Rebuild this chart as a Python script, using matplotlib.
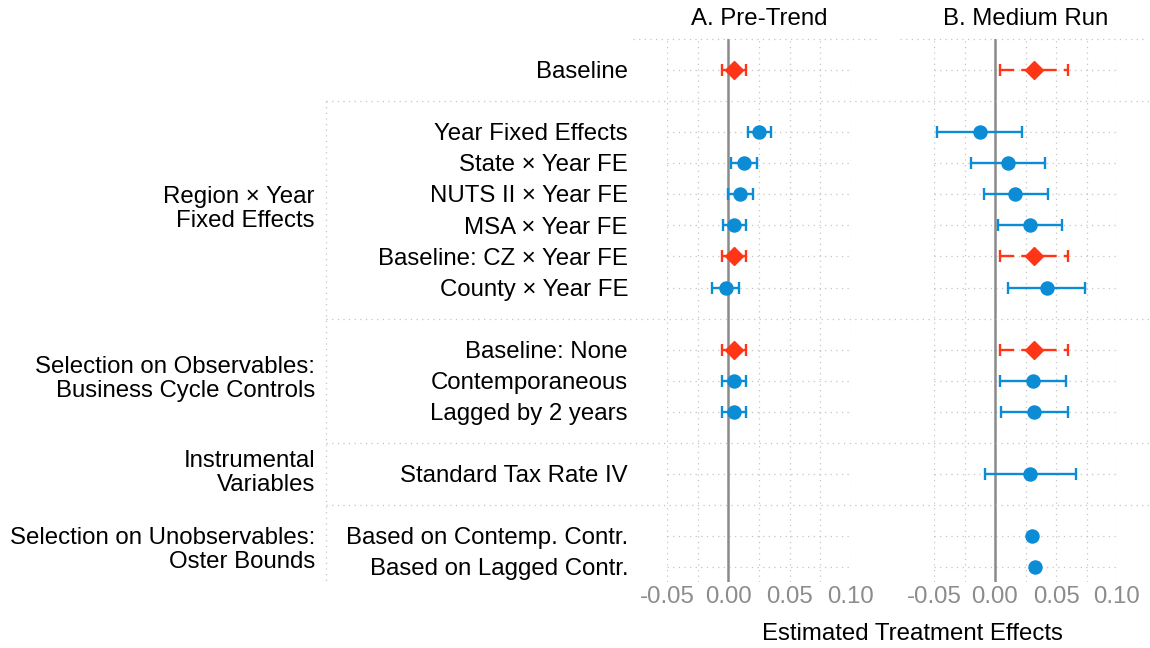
import numpy as np
import matplotlib
matplotlib.use("Agg")
import matplotlib.pyplot as plt
from matplotlib import transforms

plt.rcParams['font.family'] = ['Liberation Sans', 'DejaVu Sans']
plt.rcParams['axes.unicode_minus'] = False

# groups of specifications (group label, row labels)
groups = [
    ("", ["Baseline"]),
    ("Region × Year\nFixed Effects", ["Year Fixed Effects", "State × Year FE", "NUTS II × Year FE",
                                      "MSA × Year FE", "Baseline: CZ × Year FE", "County × Year FE"]),
    ("Selection on Observables:\nBusiness Cycle Controls", ["Baseline: None", "Contemporaneous",
                                                           "Lagged by 2 years"]),
    ("Instrumental\nVariables", ["Standard Tax Rate IV"]),
    ("Selection on Unobservables:\nOster Bounds", ["Based on Contemp. Contr.", "Based on Lagged Contr."]),
]

is_baseline = [True, False, False, False, False, True, False, True, False, False, False, False, False]

nan = np.nan
# A. Pre-Trend
pre_est = [0.0049, 0.0246, 0.0128, 0.0093, 0.0049, 0.0049, -0.0022, 0.0049, 0.0044, 0.0044, nan, nan, nan]
pre_lo = [-0.0050, 0.0158, 0.0025, -0.0006, -0.0047, -0.0050, -0.0134, -0.0050, -0.0055, -0.0055, nan, nan, nan]
pre_hi = [0.0145, 0.0350, 0.0235, 0.0200, 0.0145, 0.0145, 0.0090, 0.0145, 0.0140, 0.0140, nan, nan, nan]
# B. Medium Run
mr_est = [0.0316, -0.0126, 0.0107, 0.0168, 0.0289, 0.0316, 0.0423, 0.0316, 0.0311, 0.0319, 0.0283, 0.0302, 0.0324]
mr_lo = [0.0041, -0.0473, -0.0195, -0.0091, 0.0025, 0.0041, 0.0110, 0.0041, 0.0041, 0.0047, -0.0082, nan, nan]
mr_hi = [0.0596, 0.0225, 0.0410, 0.0437, 0.0552, 0.0596, 0.0740, 0.0596, 0.0580, 0.0596, 0.0660, nan, nan]

ticks = [-0.05, 0.00, 0.05, 0.10]
tick_labels = ["-0.05", "0.00", "0.05", "0.10"]

RED = '#FF3516'
BLUE = '#0B8CD4'
GRID = '#c4c4c4'
DOT = (0, (1, 3.5))
FS = 17.3

W, H = 1150, 648
fig = plt.figure(figsize=(11.5, 6.48), dpi=100)

# row positions, one empty row between groups
rows, labels, seps, group_pos = [], [], [], []
r = 0
for g, (glab, items) in enumerate(groups):
    start = r
    for it in items:
        rows.append(r)
        labels.append(it)
        r += 1
    group_pos.append((glab, (start + r - 1) / 2))
    if g < len(groups) - 1:
        seps.append(r)
        r += 1
ytop, ybot = -1.0, r - 1 + 0.48

top_px, bot_px = 39, 582


def make_panel(x0, x1, title, est, lo, hi):
    ax = fig.add_axes([x0 / W, 1 - bot_px / H, (x1 - x0) / W, (bot_px - top_px) / H])
    ax.set_xlim(-0.05, 0.10)
    ax.set_ylim(ybot, ytop)
    ax.patch.set_alpha(0)
    for s in ax.spines.values():
        s.set_visible(False)
    for xv in np.arange(-0.05, 0.1001, 0.025):
        ax.axvline(xv, color=GRID, lw=0.9, ls=DOT, zorder=1)
    for rr in rows:
        ax.hlines(rr, -0.05, 0.10, color=GRID, lw=0.9, ls=DOT, zorder=1)
    ax.axvline(0, color='#8a8a8a', lw=1.8, zorder=2)
    for i, rr in enumerate(rows):
        if np.isnan(est[i]):
            continue
        col = RED if is_baseline[i] else BLUE
        if not np.isnan(lo[i]):
            _, caps, bars = ax.errorbar(est[i], rr, xerr=[[est[i] - lo[i]], [hi[i] - est[i]]], fmt='none',
                                        ecolor=col, elinewidth=1.7, capsize=4.3, capthick=1.7, zorder=3)
            if is_baseline[i]:
                bars[0].set_linestyle((0, (6.0, 3.0)))
        ax.plot(est[i], rr, ls='none', marker='D' if is_baseline[i] else 'o',
                ms=9.4, color=col, mec=col, zorder=4)
    ax.set_yticks([])
    ax.set_xticks(ticks)
    ax.set_xticklabels(tick_labels)
    ax.tick_params(axis='x', length=0, pad=3, labelsize=FS, labelcolor='#8c8c8c')
    fig.text((x0 + x1) / 2 / W, 1 - 19 / H, title, ha='center', va='center', fontsize=FS)
    return ax


axA = make_panel(667, 851, "A. Pre-Trend", pre_est, pre_lo, pre_hi)
axB = make_panel(934, 1117, "B. Medium Run", mr_est, mr_lo, mr_hi)

tr = transforms.blended_transform_factory(fig.transFigure, axA.transData)

# row labels and group labels
for lab, rr in zip(labels, rows):
    fig.text(628 / W, rr + 0.07, lab, transform=tr, ha='right', va='center', fontsize=FS)
for glab, gp in group_pos:
    if glab:
        fig.text(315 / W, gp - 0.04, glab, transform=tr, ha='right', va='center',
                 fontsize=FS, linespacing=1.12)

# separators
for s in seps:
    fig.add_artist(plt.Line2D([326 / W, 1], [s, s], transform=tr, color=GRID, lw=0.9, ls=DOT))
fig.add_artist(plt.Line2D([633 / W, 880 / W], [ytop, ytop], transform=tr, color=GRID, lw=0.9, ls=DOT))
fig.add_artist(plt.Line2D([900 / W, 1147 / W], [ytop, ytop], transform=tr, color=GRID, lw=0.9, ls=DOT))
fig.add_artist(plt.Line2D([326 / W, 326 / W], [seps[0], ybot], transform=tr, color=GRID, lw=0.9, ls=DOT))

fig.text(912 / W, 1 - 634 / H, "Estimated Treatment Effects", ha='center', va='center', fontsize=FS)

fig.savefig('out.png', dpi=100)
